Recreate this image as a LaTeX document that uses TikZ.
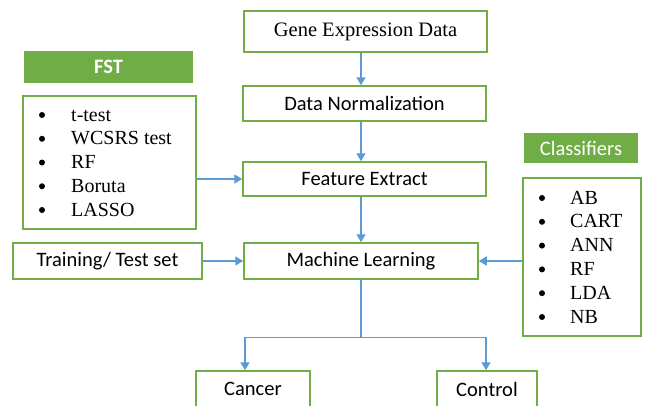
\documentclass[tikz,border=0pt]{standalone}
\usepackage{fontspec}
\setmainfont{Liberation Serif}
\newfontfamily\carl{Carlito}
\usetikzlibrary{arrows.meta}
\definecolor{gborder}{HTML}{70AD47}
\definecolor{gfill}{HTML}{70AD47}
\definecolor{abl}{HTML}{5B9BD5}
\begin{document}
\begin{tikzpicture}[x=1pt,y=-1pt,
  box/.style={draw=gborder,line width=1.5pt,fill=white,inner sep=0pt,minimum width=#1},
  head/.style={fill=gfill,draw=none,inner sep=0pt,text=white,font=\carl\fontsize{20.5}{24}\selectfont,minimum width=#1},
  sans/.style={font=\carl\fontsize{20.5}{24}\selectfont},
  serif/.style={font=\fontsize{20.5}{24}\selectfont},
  item/.style={anchor=base west,inner sep=0pt,font=\fontsize{20}{24}\selectfont},
  bul/.style={circle,fill=black,inner sep=0pt,minimum size=6pt},
  arr/.style={draw=abl,line width=1.4pt,-{Triangle[length=8pt,width=9pt]}}]
\useasboundingbox (0,0) rectangle (645,405);
\clip (0,0) rectangle (645,405);
% main column
\node[box=243pt,minimum height=41pt,serif] (gene) at (365.5,31.5) {Gene Expression Data};
\node[box=243pt,minimum height=35pt,sans] (norm) at (364.5,103.5) {Data Normalization};
\node[box=243pt,minimum height=34pt,sans] (feat) at (364.5,179) {Feature Extract};
\node[box=234pt,minimum height=36pt,sans] (ml) at (361,261) {Machine Learning};
\node[box=189pt,minimum height=36pt,sans] (train) at (107.5,261) {Training/ Test set};
\node[box=114pt,minimum height=36pt,sans] (cancer) at (253,389) {Cancer};
\node[box=100pt,minimum height=36pt,sans] (control) at (487,389) {Control};
% FST
\node[head=169pt,minimum height=32pt,font=\carl\bfseries\fontsize{20.5}{24}\selectfont] (fsth) at (108.5,67) {FST};
\node[box=173pt,minimum height=133pt] (fstl) at (109.5,162.5) {};
\foreach \t [count=\i] in {t-test,WCSRS test,RF,Boruta,LASSO}{
  \node[bul] (fb\i) at (42,115+23.75*\i-23.75) {};
  \node[item] (ft\i) at (71,121+23.75*\i-23.75) {\t};
}
% Classifiers
\node[head=114pt,minimum height=30pt] (clh) at (581,148) {Classifiers};
\node[box=118pt,minimum height=158pt] (cll) at (582,257) {};
\foreach \t [count=\i] in {AB,CART,ANN,RF,LDA,NB}{
  \node[bul] (cb\i) at (542,198+23.8*\i-23.8) {};
  \node[item] (ct\i) at (570,204+23.8*\i-23.8) {\t};
}
% arrows
\draw[arr] (gene.south -| ml.center) -- (norm.north -| ml.center);
\draw[arr] (norm.south -| ml.center) -- (feat.north -| ml.center);
\draw[arr] (feat.south -| ml.center) -- (ml.north);
\draw[arr] (fstl.east |- feat.west) -- (feat.west);
\draw[arr] (train.east) -- (ml.west);
\draw[arr] (cll.west |- ml.east) -- (ml.east);
\coordinate (split) at ([yshift=-58pt]ml.south);
\draw[draw=abl,line width=1.4pt] (ml.south) -- (split);
\draw[arr] (split) -| ([xshift=-8pt]cancer.north);
\draw[arr] (split) -| ([xshift=-1pt]control.north);
\end{tikzpicture}
\end{document}
